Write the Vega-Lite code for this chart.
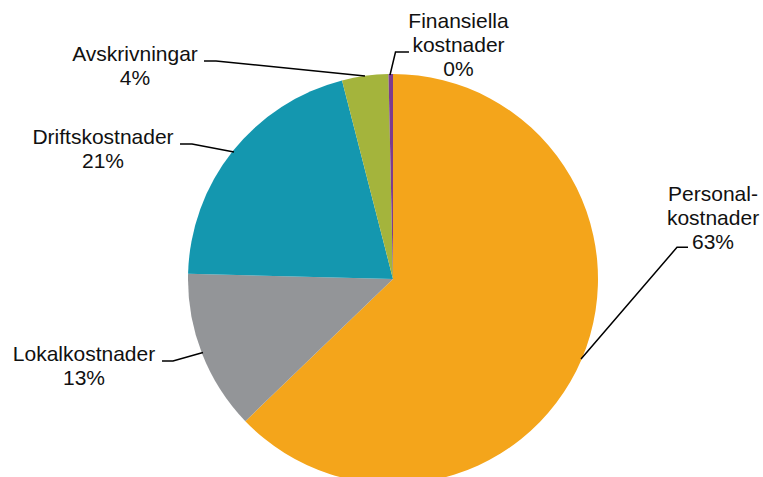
{
  "$schema": "https://vega.github.io/schema/vega-lite/v6.json",
  "width": 763,
  "height": 477,
  "autosize": "none",
  "padding": 0,
  "background": "white",
  "config": {"view": {"stroke": null}},
  "datasets": {
    "slices": [
      {"cat": "Personalkostnader", "value": 62.8, "ord": 1},
      {"cat": "Lokalkostnader", "value": 12.6, "ord": 2},
      {"cat": "Driftskostnader", "value": 20.6, "ord": 3},
      {"cat": "Avskrivningar", "value": 3.65, "ord": 4},
      {"cat": "Finansiella kostnader", "value": 0.35, "ord": 5}
    ],
    "leaders": [
      {"g": "Finansiella", "i": 1, "x": -0.0146, "y": 0.9951},
      {"g": "Finansiella", "i": 2, "x": 0.0122, "y": 1.1073},
      {"g": "Finansiella", "i": 3, "x": 0.078, "y": 1.1073},
      {"g": "Avskrivningar", "i": 1, "x": -0.1366, "y": 0.9902},
      {"g": "Avskrivningar", "i": 2, "x": -0.8634, "y": 1.0634},
      {"g": "Avskrivningar", "i": 3, "x": -0.922, "y": 1.0634},
      {"g": "Drift", "i": 1, "x": -0.7756, "y": 0.6195},
      {"g": "Drift", "i": 2, "x": -0.9805, "y": 0.6585},
      {"g": "Drift", "i": 3, "x": -1.039, "y": 0.6585},
      {"g": "Lokal", "i": 1, "x": -0.9268, "y": -0.3585},
      {"g": "Lokal", "i": 2, "x": -1.0732, "y": -0.4},
      {"g": "Lokal", "i": 3, "x": -1.1268, "y": -0.4},
      {"g": "Personal", "i": 1, "x": 0.9171, "y": -0.3902},
      {"g": "Personal", "i": 2, "x": 1.3854, "y": 0.1546},
      {"g": "Personal", "i": 3, "x": 1.439, "y": 0.1546}
    ],
    "labels": [
      {"label": "Finansiella\nkostnader\n0%", "x": 0.3195, "y": 1.2268},
      {"label": "Avskrivningar\n4%", "x": -1.2585, "y": 1.061},
      {"label": "Driftskostnader\n21%", "x": -1.4146, "y": 0.6585},
      {"label": "Lokalkostnader\n13%", "x": -1.5073, "y": -0.3976},
      {"label": "Personal-\nkostnader\n63%", "x": 1.561, "y": 0.3829}
    ]
  },
  "layer": [
    {
      "data": {"name": "slices"},
      "mark": {"type": "arc", "outerRadius": 205, "clip": true},
      "encoding": {
        "x": {"datum": 0, "type": "quantitative", "scale": {"domain": [-1.91707, 1.80488], "nice": false, "zero": false}, "axis": null},
        "y": {"datum": 0, "type": "quantitative", "scale": {"domain": [-0.96585, 1.36098], "nice": false, "zero": false}, "axis": null},
        "theta": {"field": "value", "type": "quantitative", "stack": true},
        "order": {"field": "ord", "type": "quantitative"},
        "color": {
          "field": "cat",
          "type": "nominal",
          "scale": {
            "domain": ["Personalkostnader", "Lokalkostnader", "Driftskostnader", "Avskrivningar", "Finansiella kostnader"],
            "range": ["#F4A51B", "#939598", "#1497AF", "#A4B43C", "#7D3C8E"]
          },
          "legend": null
        }
      }
    },
    {
      "data": {"name": "leaders"},
      "mark": {"type": "line", "color": "black", "strokeWidth": 1.5},
      "encoding": {
        "x": {"field": "x", "type": "quantitative"},
        "y": {"field": "y", "type": "quantitative"},
        "detail": {"field": "g"},
        "order": {"field": "i", "type": "quantitative"}
      }
    },
    {
      "data": {"name": "labels"},
      "mark": {"type": "text", "align": "center", "baseline": "alphabetic", "lineBreak": "\n", "lineHeight": 24, "fontSize": 21, "font": "Liberation Sans", "color": "#111111"},
      "encoding": {
        "x": {"field": "x", "type": "quantitative"},
        "y": {"field": "y", "type": "quantitative"},
        "text": {"field": "label"}
      }
    }
  ]
}
